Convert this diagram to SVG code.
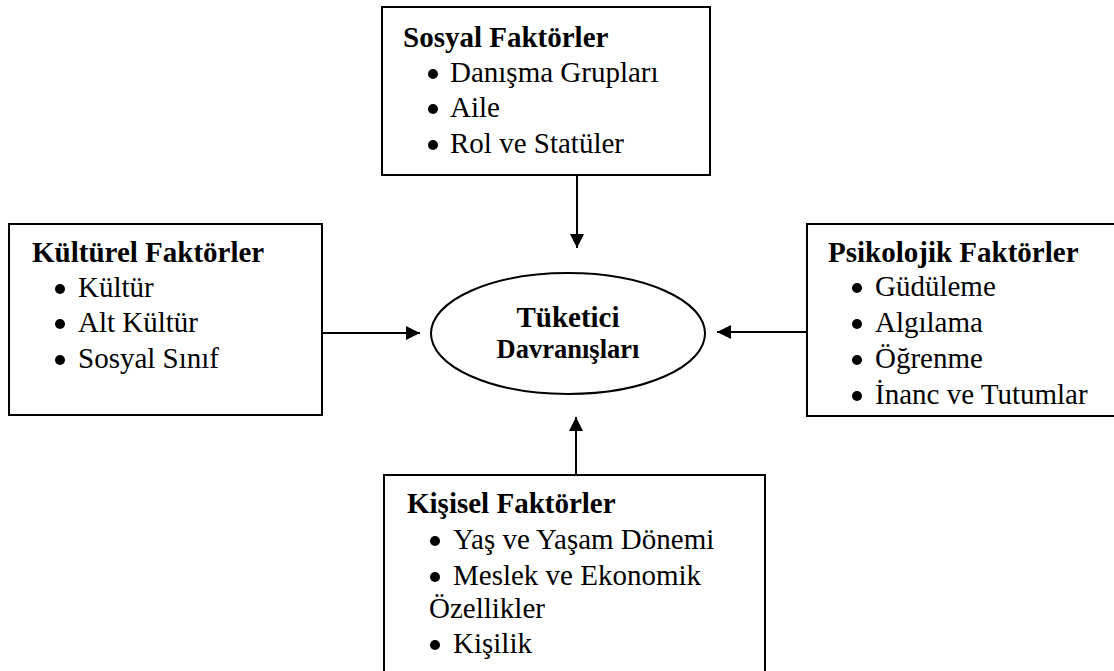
<svg xmlns="http://www.w3.org/2000/svg" width="1114" height="671" viewBox="0 0 1114 671">
<style>
.box{fill:#fff;stroke:#000;stroke-width:2}
.t{font-family:"Liberation Serif","Times New Roman",serif;font-size:29px;fill:#000}
.b{font-weight:bold}
.dot{fill:#000}
.c{stroke:#000;stroke-width:2;fill:none}
</style>
<defs>
<marker id="ah" markerUnits="userSpaceOnUse" markerWidth="16" markerHeight="16" viewBox="0 0 16 16" refX="15" refY="8" orient="auto">
<path d="M1,1 L15,8 L1,15 Z" fill="#000"/>
</marker>
</defs>
<rect width="1114" height="671" fill="#fff"/>
<g id="sosyal">
<rect class="box" x="382" y="7" width="328" height="168"/>
<text class="t b" x="403" y="47">Sosyal Faktörler</text>
<circle class="dot" cx="433" cy="74" r="5"/><text class="t" x="450" y="82">Danışma Grupları</text>
<circle class="dot" cx="433" cy="109" r="5"/><text class="t" x="450" y="117">Aile</text>
<circle class="dot" cx="433" cy="145" r="5"/><text class="t" x="450" y="153">Rol ve Statüler</text>
</g>
<g id="kulturel">
<rect class="box" x="9" y="224" width="313" height="191"/>
<text class="t b" x="32" y="262">Kültürel Faktörler</text>
<circle class="dot" cx="60" cy="289" r="5"/><text class="t" x="78" y="297">Kültür</text>
<circle class="dot" cx="60" cy="324" r="5"/><text class="t" x="78" y="332">Alt Kültür</text>
<circle class="dot" cx="60" cy="360" r="5"/><text class="t" x="78" y="368">Sosyal Sınıf</text>
</g>
<g id="psikolojik">
<rect class="box" x="807" y="224" width="320" height="192"/>
<text class="t b" x="828" y="262">Psikolojik Faktörler</text>
<circle class="dot" cx="857" cy="288" r="5"/><text class="t" x="875" y="296">Güdüleme</text>
<circle class="dot" cx="857" cy="324" r="5"/><text class="t" x="875" y="332">Algılama</text>
<circle class="dot" cx="857" cy="360" r="5"/><text class="t" x="875" y="368">Öğrenme</text>
<circle class="dot" cx="857" cy="396" r="5"/><text class="t" x="875" y="404">İnanc ve Tutumlar</text>
</g>
<g id="kisisel">
<rect class="box" x="384" y="475" width="381" height="210"/>
<text class="t b" x="407" y="513">Kişisel Faktörler</text>
<circle class="dot" cx="435" cy="541" r="5"/><text class="t" x="453" y="549">Yaş ve Yaşam Dönemi</text>
<circle class="dot" cx="435" cy="577" r="5"/><text class="t" x="453" y="585">Meslek ve Ekonomik</text>
<text class="t" x="429" y="618">Özellikler</text>
<circle class="dot" cx="435" cy="645" r="5"/><text class="t" x="453" y="653">Kişilik</text>
</g>
<g id="tuketici">
<ellipse class="box" cx="568" cy="333.5" rx="137" ry="60.5"/>
<text class="t b" x="568" y="327" text-anchor="middle">Tüketici</text>
<text class="t b" x="568" y="358" text-anchor="middle" style="font-size:26.5px">Davranışları</text>
</g>
<g id="connectors">
<line class="c" x1="577" y1="175" x2="577" y2="248" marker-end="url(#ah)"/>
<line class="c" x1="322" y1="333" x2="420" y2="333" marker-end="url(#ah)"/>
<line class="c" x1="807" y1="332" x2="717" y2="332" marker-end="url(#ah)"/>
<line class="c" x1="576" y1="475" x2="576" y2="417" marker-end="url(#ah)"/>
</g>
</svg>
